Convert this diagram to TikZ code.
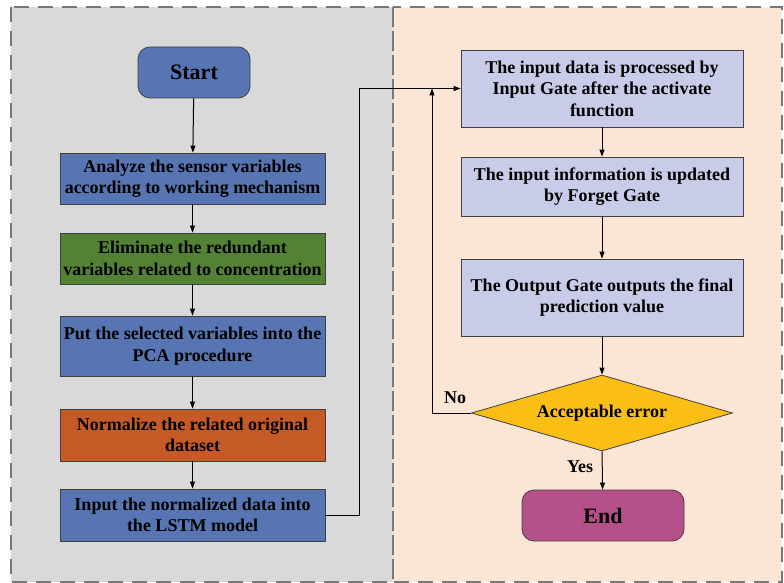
\documentclass[tikz,border=0pt]{standalone}
\usepackage{fontspec}
\setmainfont{Liberation Serif}[BoldFont={Liberation Serif Bold}]
\usetikzlibrary{shapes.geometric,arrows.meta}
\definecolor{stepblue}{RGB}{86,117,178}
\definecolor{stepgreen}{RGB}{84,130,53}
\definecolor{steporange}{RGB}{197,90,38}
\definecolor{gatelav}{RGB}{200,204,232}
\definecolor{decgold}{RGB}{251,190,20}
\definecolor{endpink}{RGB}{182,80,138}
\definecolor{panelgray}{RGB}{217,217,217}
\definecolor{panelpeach}{RGB}{251,229,213}
\definecolor{dashgray}{RGB}{120,120,120}
\begin{document}
\begin{tikzpicture}[x=1pt,y=-1pt,
  txt/.style={font=\rmfamily\bfseries\fontsize{18}{21.5}\selectfont},
  panel/.style={draw=dashgray, line width=2pt, dash pattern=on 15pt off 9pt},
  stepbox/.style={txt, draw=black!75, line width=0.8pt, align=center, inner sep=2pt,
    minimum width=265pt},
  gatebox/.style={txt, draw=black!75, line width=0.8pt, align=center, inner sep=2pt,
    minimum width=282pt, fill=gatelav},
  terminal/.style={draw=black!75, line width=0.8pt, rounded corners=12pt,
    font=\rmfamily\bfseries\fontsize{22}{26}\selectfont},
  arr/.style={draw=black, line width=1pt, -{Triangle[length=7pt,width=5pt]}}]
\useasboundingbox (0,0) rectangle (784,583);

% background panels
\fill[panelgray] (11,7) rectangle (393,582);
\fill[panelpeach] (393,7) rectangle (782,582);
\draw[panel] (11,7) rectangle (393,582);
\draw[panel] (393,7) rectangle (782,582);

% left column: preprocessing steps
\node[terminal, fill=stepblue, minimum width=112pt, minimum height=51pt] (start) at (194,72.5) {Start};
\node[stepbox, fill=stepblue, minimum height=51pt] (analyze) at (192.5,178.5)
  {Analyze the sensor variables\\according to working mechanism};
\node[stepbox, fill=stepgreen, minimum height=51pt] (elim) at (192.5,258.5)
  {Eliminate the redundant\\variables related to concentration};
\node[stepbox, fill=stepblue, minimum height=60pt] (pca) at (192.5,346)
  {Put the selected variables into the\\PCA procedure};
\node[stepbox, fill=steporange, minimum height=52pt] (norm) at (192.5,435)
  {Normalize the related original\\dataset};
\node[stepbox, fill=stepblue, minimum height=52pt] (lstm) at (192.5,515)
  {Input the normalized data into\\the LSTM model};

% right column: LSTM gates
\node[gatebox, minimum height=77pt] (ingate) at (602,88.5)
  {The input data is processed by\\Input Gate after the activate\\function};
\node[gatebox, minimum height=59pt] (fgate) at (602,186.5)
  {The input information is updated\\by Forget Gate};
\node[gatebox, minimum height=77pt] (ogate) at (602,297.5)
  {The Output Gate outputs the final\\prediction value};
\node[txt, diamond, draw=black!75, line width=0.8pt, fill=decgold, aspect=3.4, inner sep=0pt,
  minimum width=261pt, minimum height=76pt] (check) at (602,413) {Acceptable error};
\node[terminal, fill=endpink, minimum width=162pt, minimum height=51pt] (finish) at (603,515.5) {End};

% connectors
\draw[arr] (start) -- (analyze);
\draw[arr] (analyze) -- (elim);
\draw[arr] (elim) -- (pca);
\draw[arr] (pca) -- (norm);
\draw[arr] (norm) -- (lstm);
\coordinate (jump) at (359,515);
\draw[arr] (lstm.east) -- (jump) |- (ingate.west);
\draw[arr] (ingate) -- (fgate);
\draw[arr] (fgate) -- (ogate);
\draw[arr] (ogate) -- (check);
\coordinate (loopend) at (432,88.5);
\draw[arr] (check.west) -| (loopend);
\draw[arr] (check.south) -- (finish);
\node[txt] (nolab) at (455,398) {No};
\node[txt] (yeslab) at (580,467) {Yes};
\end{tikzpicture}
\end{document}
